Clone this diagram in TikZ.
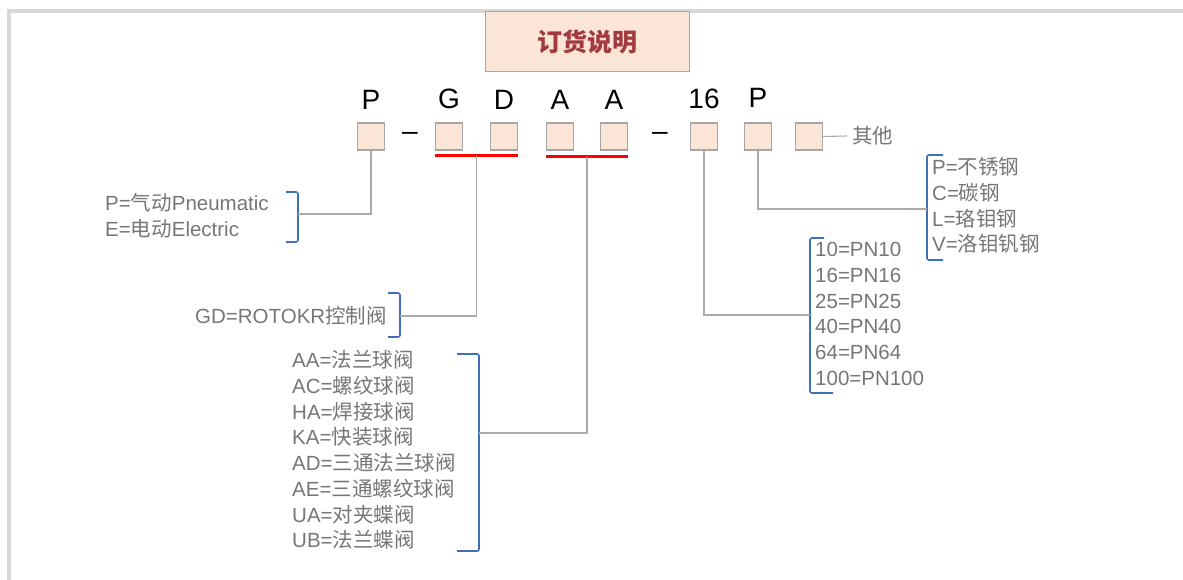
\documentclass[tikz,border=0pt]{standalone}
\usepackage{fontspec}
\setmainfont{Liberation Sans}
\newfontfamily\cjk{Noto Sans CJK SC}
\newcommand{\zh}[1]{{\cjk #1}}
\usetikzlibrary{positioning}
\definecolor{boxfill}{HTML}{FBE5D6}
\definecolor{boxline}{HTML}{A6A6A6}
\definecolor{titlered}{HTML}{A33A3F}
\definecolor{notegray}{HTML}{767676}
\definecolor{linegray}{HTML}{ABABAB}
\definecolor{bracketblue}{HTML}{3F6FB6}
\definecolor{framegray}{HTML}{D9D9D9}

\begin{document}
\begin{tikzpicture}[x=1pt,y=-1pt,
    codebox/.style ={rectangle, draw=boxline, fill=boxfill, minimum size=27pt, inner sep=0pt, line width=1.2pt},
    codeletter/.style ={inner sep=0pt, font=\fontsize{28}{28}\selectfont},
    note/.style ={anchor=west, align=left, inner sep=0pt, text=notegray, font=\fontsize{20.5}{25.7}\selectfont},
    bracket/.style ={draw=bracketblue, line width=1.6pt, rounded corners=2pt},
    link/.style ={draw=linegray, line width=1.1pt},
    redbar/.style ={draw=red, line width=2.6pt}]
   \useasboundingbox (0,0) rectangle (1183,580);
   \draw[framegray, line width=3.5pt] (9,600) -- (9,11) -- (1200,11);

   \node[rectangle, draw=boxline, fill=boxfill, line width=1pt, minimum width=204pt, minimum height=60pt,
         text=titlered, font=\cjk\bfseries\fontsize{25}{25}\selectfont] (title) at (587,42) {订货说明};

   \node[codebox] (bP)  at (371,136.5) {};
   \node[codebox] (bG)  at (449,136.5) {};
   \node[codebox] (bD)  at (504,136.5) {};
   \node[codebox] (bA1) at (560,136.5) {};
   \node[codebox] (bA2) at (614,136.5) {};
   \node[codebox] (b16) at (704,136.5) {};
   \node[codebox] (bM)  at (758,136.5) {};
   \node[codebox] (bX)  at (809,136.5) {};

   \node[codeletter, above=13pt of bP]  (lP)  {P};
   \node[codeletter, above=13pt of bG]  (lG)  {G};
   \node[codeletter, above=13pt of bD]  (lD)  {D};
   \node[codeletter, above=13pt of bA1] (lA1) {A};
   \node[codeletter, above=13pt of bA2] (lA2) {A};
   \node[codeletter, above=13pt of b16] (l16) {16};
   \node[codeletter, above=15pt of bM]  (lM)  {P};

   \node[codeletter] (dash1) at (410,136) {–};
   \node[codeletter] (dash2) at (660,136) {–};

   \draw[redbar] ([yshift=-5pt]bG.south west) -- ([yshift=-5pt]bD.south east) coordinate[midway] (gdU);
   \draw[redbar] ([yshift=-6pt]bA1.south west) -- ([yshift=-6pt]bA2.south east) coordinate[midway] (aaU);

   \node[note] (pe)  at (105,216) {P=\zh{气动}Pneumatic\\E=\zh{电动}Electric};
   \node[note] (gd)  at (195,316) {GD=ROTOKR\zh{控制阀}};
   \node[note] (aa)  at (292,450) {AA=\zh{法兰球阀}\\AC=\zh{螺纹球阀}\\HA=\zh{焊接球阀}\\KA=\zh{快装球阀}\\AD=\zh{三通法兰球阀}\\AE=\zh{三通螺纹球阀}\\UA=\zh{对夹蝶阀}\\UB=\zh{法兰蝶阀}};
   \node[note] (pn)  at (815,314) {10=PN10\\16=PN16\\25=PN25\\40=PN40\\64=PN64\\100=PN100};
   \node[note] (mat) at (932,205.5) {P=\zh{不锈钢}\\C=\zh{碳钢}\\L=\zh{珞钼钢}\\V=\zh{洛钼钒钢}};
   \node[note, inner sep=5pt] (other) at (847,136) {\zh{其他}};

   \draw[bracket] (286,192) -- (298,192) -- (298,242) -- (286,242);
   \draw[bracket] (388,293) -- (400,293) -- (400,337) -- (388,337);
   \draw[bracket] (457,354) -- (479,354) -- (479,551) -- (457,551);
   \draw[bracket] (824,238) -- (810,238) -- (810,393) -- (833,393);
   \draw[bracket] (943,155) -- (927,155) -- (927,260) -- (943,260);

   \coordinate (peB) at (298,214);
   \coordinate (gdB) at (400,316);
   \coordinate (aaB) at (479,433);
   \coordinate (pnB) at (810,315);
   \coordinate (matB) at (927,209);

   \draw[link] (bP.south) |- (peB);
   \draw[link] (gdU) |- (gdB);
   \draw[link] (aaU) |- (aaB);
   \draw[link] (b16.south) |- (pnB);
   \draw[link] (bM.south) |- (matB);
   \draw[link] (bX.east) -- (other.west);
 \end{tikzpicture}
\end{document}
